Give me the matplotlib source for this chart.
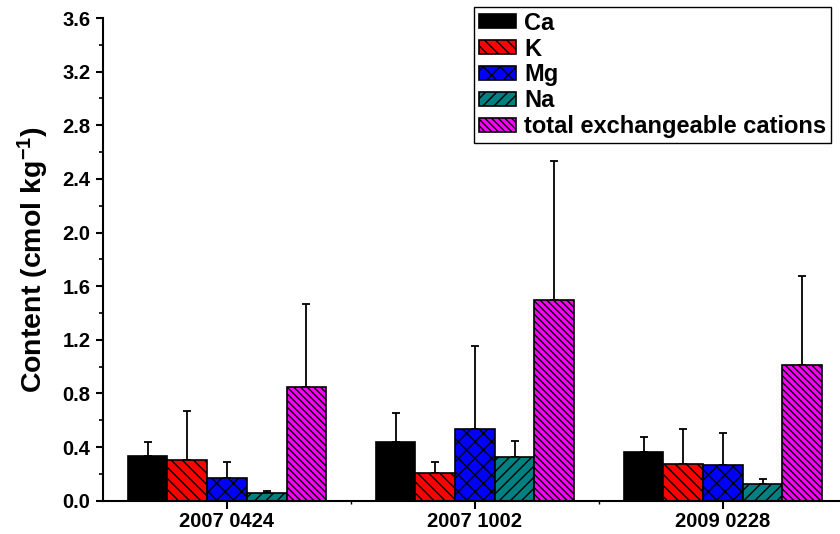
import numpy as np
import matplotlib
matplotlib.use('Agg')
import matplotlib.pyplot as plt
from matplotlib.ticker import MultipleLocator, FixedLocator

# Global plot parameters
plt.rcParams['font.family'] = 'Liberation Sans'
plt.rcParams['font.weight'] = 'bold'
plt.rcParams['mathtext.fontset'] = 'custom'
plt.rcParams['mathtext.rm'] = 'Liberation Sans:bold'
plt.rcParams['mathtext.bf'] = 'Liberation Sans:bold'
plt.rcParams['mathtext.default'] = 'bf'
plt.rcParams['hatch.linewidth'] = 1.0

# data: mean content and upper error (cmol/kg)
dates = ['2007 0424', '2007 1002', '2009 0228']
cations = ['Ca', 'K', 'Mg', 'Na', 'total exchangeable cations']
Ca = [0.334, 0.436, 0.361]
K = [0.304, 0.207, 0.276]
Mg = [0.172, 0.535, 0.264]
Na = [0.055, 0.328, 0.122]
total = [0.850, 1.494, 1.013]
Ca_err = [0.102, 0.219, 0.117]
K_err = [0.366, 0.085, 0.259]
Mg_err = [0.115, 0.618, 0.241]
Na_err = [0.020, 0.114, 0.040]
total_err = [0.617, 1.041, 0.660]

means = [Ca, K, Mg, Na, total]
errs = [Ca_err, K_err, Mg_err, Na_err, total_err]
colors = ['black', '#ff0000', '#0000ff', '#008080', '#ff00ff']
hatches = [None, '\\' * 3, 'xx', '/' * 3, '\\' * 5]

fig = plt.figure(figsize=(8.4, 5.34), dpi=100)
ax = fig.add_axes([103/840, 33.3/534, 737/840, 482.7/534])

x = np.arange(1, len(dates) + 1)
w = 0.16
for i in range(len(cations)):
    pos = x + (i - 2) * w
    ax.bar(pos, means[i], w, color=colors[i], edgecolor='black', linewidth=1.2,
           hatch=hatches[i], label=cations[i], zorder=2)
    ax.errorbar(pos, means[i], yerr=[np.zeros(3), errs[i]], fmt='none',
                ecolor='black', elinewidth=1.3, capsize=3.2, capthick=1.3, zorder=1)

ax.set_xlim(0.5, 3.472)
ax.set_ylim(0, 3.6)
ax.set_xticks(x)
ax.set_xticklabels(dates)
ax.xaxis.set_minor_locator(FixedLocator([1.5, 2.5]))
ax.yaxis.set_major_locator(MultipleLocator(0.4))
ax.yaxis.set_minor_locator(MultipleLocator(0.2))
ax.yaxis.set_major_formatter(matplotlib.ticker.FormatStrFormatter('%.1f'))

ax.spines['top'].set_visible(False)
ax.spines['right'].set_visible(False)
ax.spines['left'].set_linewidth(1.5)
ax.spines['bottom'].set_linewidth(1.5)
ax.tick_params(axis='both', which='major', labelsize=14.5, width=1.5)
ax.tick_params(axis='y', which='major', length=5, pad=4)
ax.tick_params(axis='y', which='minor', length=3, width=1.2)
ax.tick_params(axis='x', which='major', length=6, pad=2)
ax.tick_params(axis='x', which='minor', length=2, width=1.0)

ax.set_ylabel('Content (cmol kg$^{-1}$)', fontsize=20.5, fontweight='bold', labelpad=8)

leg = ax.legend(loc='upper right', bbox_to_anchor=(831/840, 1 - 7/534),
                bbox_transform=fig.transFigure, borderaxespad=0,
                fancybox=False, edgecolor='black', framealpha=1,
                fontsize=17, handlelength=1.6, handleheight=0.55,
                labelspacing=0.12, handletextpad=0.33, borderpad=0.2)
leg.get_frame().set_linewidth(1.0)

plt.savefig('out.png', dpi=100)
